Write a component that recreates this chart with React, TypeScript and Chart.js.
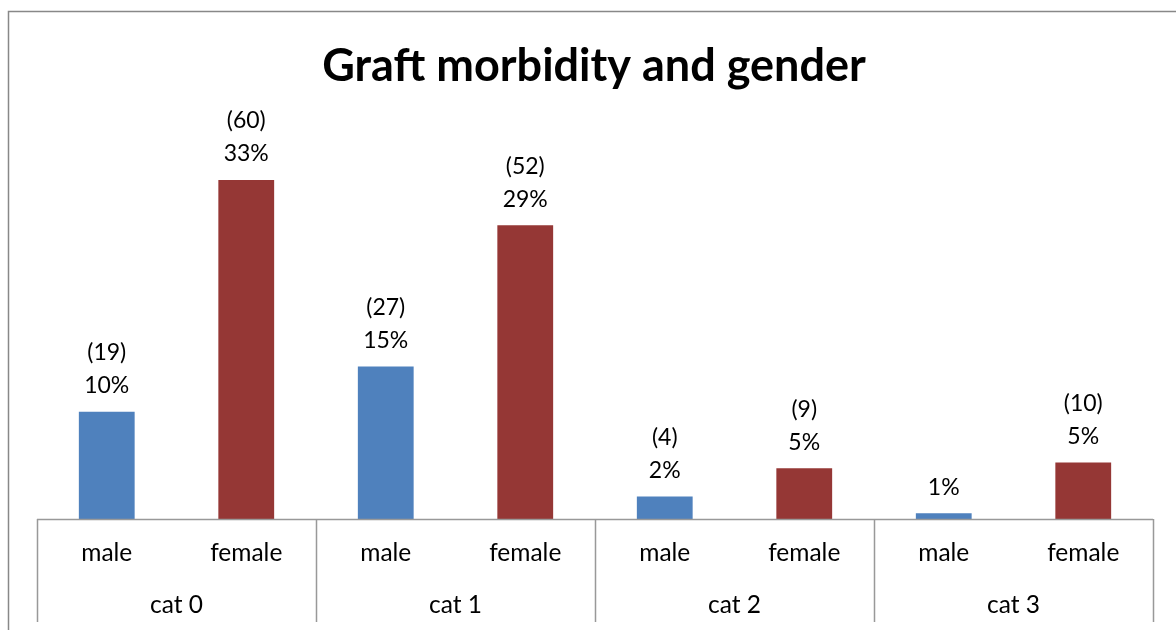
import React, { useEffect, useRef } from "react";
import { Chart, registerables } from "chart.js";

Chart.register(...registerables);

const groups = ["cat 0", "cat 1", "cat 2", "cat 3"];
const genders = ["male", "female"];
const counts = [19, 60, 27, 52, 4, 9, 1, 10];
const percentLabels = ["10%", "33%", "15%", "29%", "2%", "5%", "1%", "5%"];
const countLabels = ["(19)", "(60)", "(27)", "(52)", "(4)", "(9)", null, "(10)"];
const barColors = ["#4F81BD", "#953735", "#4F81BD", "#953735", "#4F81BD", "#953735", "#4F81BD", "#953735"];
const title = "Graft morbidity and gender";

const FONT = "Lato, 'Open Sans', sans-serif";

const decorPlugin = {
  id: "decor",
  beforeDraw(chart: any) {
    const { ctx, width, height } = chart;
    ctx.save();
    ctx.fillStyle = "#ffffff";
    ctx.fillRect(0, 0, width, height);
    ctx.strokeStyle = "#888888";
    ctx.lineWidth = 1.5;
    ctx.strokeRect(8.5, 11.5, width + 10, height + 10);
    ctx.restore();
  },
  afterDatasetsDraw(chart: any) {
    const { ctx, chartArea } = chart;
    const x = chart.scales.x;
    const y = chart.scales.y;
    const n = chart.data.labels.length;
    const step = x.width / n;
    ctx.save();
    // axis line and group separators
    ctx.strokeStyle = "#999999";
    ctx.lineWidth = 1.5;
    ctx.beginPath();
    ctx.moveTo(chartArea.left, chartArea.bottom + 0.5);
    ctx.lineTo(chartArea.right, chartArea.bottom + 0.5);
    for (let g = 0; g <= groups.length; g++) {
      const px = Math.round(x.getPixelForValue(g * 2) - step / 2) + 0.5;
      ctx.moveTo(px, chartArea.bottom);
      ctx.lineTo(px, chartArea.bottom + 103);
    }
    ctx.stroke();

    ctx.fillStyle = "#000000";
    ctx.textAlign = "center";
    ctx.textBaseline = "middle";
    ctx.font = `24.5px ${FONT}`;
    for (let i = 0; i < n; i++) {
      const px = x.getPixelForValue(i);
      ctx.fillText(genders[i % 2], px, chartArea.bottom + 34);
    }
    for (let g = 0; g < groups.length; g++) {
      const px = (x.getPixelForValue(g * 2) + x.getPixelForValue(g * 2 + 1)) / 2;
      ctx.fillText(groups[g], px, chartArea.bottom + 86);
    }
    // data labels
    ctx.font = `23px ${FONT}`;
    for (let i = 0; i < n; i++) {
      const px = x.getPixelForValue(i);
      const py = y.getPixelForValue(counts[i]);
      ctx.fillText(percentLabels[i], px, py - 26);
      const c = countLabels[i];
      if (c) ctx.fillText(c, px, py - 59);
    }
    // title
    ctx.font = `bold 45px ${FONT}`;
    ctx.fillText(title, 594, 66);
    ctx.restore();
  },
};

export default function App() {
  const ref = useRef<HTMLCanvasElement>(null);
  useEffect(() => {
    if (!ref.current) return;
    const labels = counts.map((_, i) => `${groups[Math.floor(i / 2)]} ${genders[i % 2]}`);
    const chart = new Chart(ref.current, {
      type: "bar",
      data: {
        labels,
        datasets: [
          {
            data: counts,
            backgroundColor: barColors,
            borderWidth: 0,
            categoryPercentage: 1,
            barPercentage: 0.4,
          },
        ],
      },
      options: {
        animation: false,
        responsive: false,
        maintainAspectRatio: false,
        layout: { padding: { left: 37, right: 23, top: 123.5, bottom: 111 } },
        plugins: { legend: { display: false }, title: { display: false }, tooltip: { enabled: false } },
        scales: {
          x: { display: false },
          y: { display: false, min: 0, max: 70 },
        },
      },
      plugins: [decorPlugin],
    });
    return () => chart.destroy();
  }, []);
  return (
    <div style={{ position: "fixed", left: 0, top: 0, width: 1176, height: 630 }}>
      <canvas ref={ref} width={1176} height={630} style={{ display: "block" }} />
    </div>
  );
}
